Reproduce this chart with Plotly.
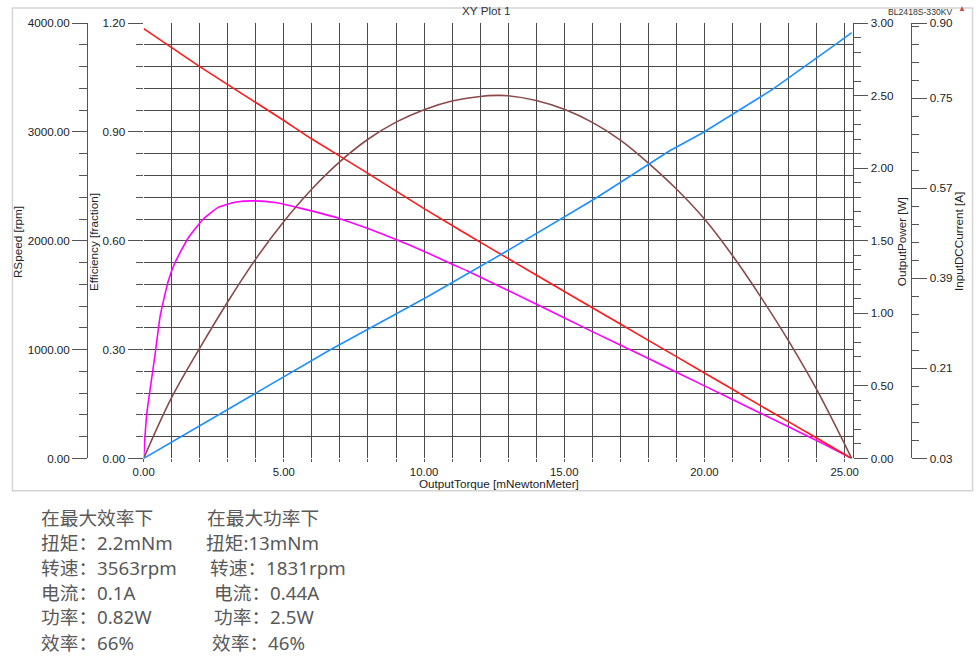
import plotly.graph_objects as go

# ---------------- data ----------------
torque_speed = [0, 1, 2, 3, 4, 5, 6, 8, 10, 12.5, 14, 16, 18, 20, 22, 24, 25.25]
speed_rpm = [3950, 3775, 3601, 3435, 3271, 3105, 2935, 2620, 2295, 1912, 1685, 1385, 1085, 785, 485, 188, 0]

torque_eff = [0, 0.03, 0.11, 0.41, 0.59, 0.88, 1.12, 1.60, 2.13, 2.66, 3.26, 3.91, 4.74, 5.58,
              7.0, 7.95, 9.02, 9.97, 11.04, 11.57, 14.01, 15.91, 18.04, 20.0, 21.96, 24.2, 25.25]
efficiency = [0, 0.04, 0.122, 0.288, 0.393, 0.490, 0.540, 0.609, 0.660, 0.692, 0.706, 0.710, 0.705,
              0.690, 0.661, 0.635, 0.603, 0.572, 0.534, 0.516, 0.425, 0.353, 0.274, 0.200, 0.126, 0.042, 0]

torque_power = [0, 1, 2, 3, 4, 5, 6, 7, 8, 9, 10, 11, 12, 12.6, 13, 14, 15, 16, 17, 18, 19, 20,
                21, 22, 23, 24, 25.25]
power_w = [0, 0.42, 0.76, 1.08, 1.375, 1.633, 1.857, 2.046, 2.200, 2.318, 2.404, 2.463, 2.495, 2.502,
           2.500, 2.467, 2.406, 2.316, 2.194, 2.036, 1.857, 1.650, 1.398, 1.115, 0.81, 0.475, 0]

torque_current = [0, 3.62, 6.64, 10.09, 12.97, 16.15, 18.76, 19.94, 22.44, 24.69, 25.25]
current_a = [0.03, 0.149, 0.2466, 0.352, 0.445, 0.551, 0.645, 0.681, 0.768, 0.858, 0.881]

current_ticks = [0.03, 0.21, 0.39, 0.57, 0.75, 0.90]

chart_title = "XY Plot 1"
model_name = "BL2418S-330KV"
x_title = "OutputTorque [mNewtonMeter]"
speed_title = "RSpeed [rpm]"
eff_title = "Efficiency [fraction]"
power_title = "OutputPower [W]"
current_title = "InputDCCurrent [A]"

left_notes = ["在最大效率下", "扭矩：2.2mNm", "转速：3563rpm", "电流：0.1A", "功率：0.82W", "效率：66%"]
right_notes = ["在最大功率下", "扭矩:13mNm", "转速：1831rpm", "电流：0.44A", "功率：2.5W", "效率：46%"]

# ---------------- geometry helpers (target screen pixels -> paper) ----------------
W, H = 979, 661
# measured mapping of figure pixels onto the captured picture
SX, OX = 0.9847, 10.7
SY, OY = 0.9807, 6.13
FS = 1 / 0.983


def px(x):
    return min(max(((x - OX) / SX) / W, 0.0015), 0.9985)


def py(y):
    return min(max(1 - ((y - OY) / SY) / H, 0.0015), 0.9985)


X_LEFT, X_RIGHT = 143.5, 854.0
Y_TOP, Y_BOT = 22.3, 457.7
T_PER_PX = 1 / 28.07
x_max = (X_RIGHT - X_LEFT) * T_PER_PX

FONT = "Liberation Sans, Arial, sans-serif"
GRID = "#4a4a4a"
AX = "#555555"
TXT = "#222222"

fig = go.Figure()
fig.add_trace(go.Scatter(x=torque_speed, y=speed_rpm, mode="lines", yaxis="y2",
                         line=dict(color="#ff1a1a", width=1.6, shape="spline", smoothing=0.5),
                         name="RSpeed"))
fig.add_trace(go.Scatter(x=torque_power, y=power_w, mode="lines", yaxis="y3",
                         line=dict(color="#8b4a4a", width=1.6, shape="spline", smoothing=1.0),
                         name="OutputPower"))
fig.add_trace(go.Scatter(x=torque_current, y=current_a, mode="lines", yaxis="y4",
                         line=dict(color="#1e8fff", width=1.6), name="InputDCCurrent"))
fig.add_trace(go.Scatter(x=torque_eff, y=efficiency, mode="lines", yaxis="y",
                         line=dict(color="#ff00ff", width=1.6, shape="spline", smoothing=0.5),
                         name="Efficiency"))

ydom = [py(Y_BOT), py(Y_TOP)]
tickfont = dict(family=FONT, size=11.5 * FS, color=TXT)

fig.update_layout(
    width=W, height=H, margin=dict(l=0, r=0, t=0, b=0, pad=0),
    paper_bgcolor="white", plot_bgcolor="white", showlegend=False, hovermode=False,
    xaxis=dict(domain=[px(X_LEFT), px(X_RIGHT)], range=[0, x_max], tickvals=[0, 5, 10, 15, 20, 25],
               tickformat=".2f", ticks="outside", ticklen=3, tickcolor=AX,
               tickfont=dict(family=FONT, size=11.2 * FS, color=TXT),
               showgrid=True, gridcolor=GRID, gridwidth=1, zeroline=False, showline=False,
               minor=dict(dtick=1, tick0=0, ticks="outside", ticklen=3, tickcolor=AX,
                          showgrid=True, gridcolor=GRID, gridwidth=1)),
    yaxis=dict(domain=ydom, range=[0, 1.2], dtick=0.3, tickformat=".2f", ticks="outside",
               ticklen=15, tickcolor=AX, tickfont=tickfont, showgrid=True, gridcolor=GRID,
               zeroline=False, showline=False,
               minor=dict(dtick=0.06, ticks="outside", ticklen=7, tickcolor=AX,
                          showgrid=True, gridcolor=GRID, gridwidth=1)),
    yaxis2=dict(domain=ydom, range=[0, 4000], dtick=1000, tickformat=".2f", overlaying="y",
                anchor="free", position=px(87), side="left", ticks="outside", ticklen=15,
                tickcolor=AX, tickfont=tickfont, showgrid=False, zeroline=False,
                showline=True, linecolor=AX, linewidth=1,
                minor=dict(dtick=200, ticks="outside", ticklen=8, tickcolor=AX, showgrid=False)),
    yaxis3=dict(domain=ydom, range=[0, 3], dtick=0.5, tickformat=".2f", overlaying="y",
                anchor="free", position=px(X_RIGHT), side="right", ticks="outside", ticklen=14,
                tickcolor=AX, tickfont=tickfont, showgrid=False, zeroline=False,
                showline=True, linecolor=GRID, linewidth=1,
                minor=dict(dtick=0.1, ticks="outside", ticklen=7, tickcolor=AX, showgrid=False)),
    yaxis4=dict(domain=ydom, range=[0.03, 0.90], tickmode="array", tickvals=current_ticks,
                tickformat=".2f", overlaying="y", anchor="free", position=px(912), side="right",
                ticks="outside", ticklen=15, tickcolor=AX, tickfont=tickfont, showgrid=False,
                zeroline=False, showline=True, linecolor=AX, linewidth=1,
                minor=dict(tickmode="linear", tick0=0.03, dtick=0.036, ticks="outside", ticklen=7,
                           tickcolor=AX, showgrid=False)),
)

# panel frame
fig.add_shape(type="rect", xref="paper", yref="paper", x0=px(1.5), x1=px(975.5), y0=py(490), y1=py(2),
              line=dict(color="#d4d4d4", width=1.5), layer="below")


def note(x, y, text, font, angle=0, xanchor="center"):
    fig.add_annotation(x=px(x), y=py(y), xref="paper", yref="paper", text=text, textangle=angle,
                       xanchor=xanchor, yanchor="middle", showarrow=False, font=font)


ann_font = dict(family=FONT, size=11.5 * FS, color=TXT)
note(963, 8, "▲", dict(family=FONT, size=8 * FS, color="#c0504d"))
note(487, 10, chart_title, dict(family=FONT, size=11.5 * FS, color="#333333"))
note(921, 11, model_name, dict(family=FONT, size=8.5 * FS, color="#333333"))
note(499, 482.5, x_title, ann_font)
for xx, t in [(17, speed_title), (94, eff_title), (902, power_title), (959, current_title)]:
    note(xx, 241, t, ann_font, angle=-90)

note_font = dict(family="Noto Sans, Noto Sans CJK SC", size=18.4 * FS, color="#595959")
line_y = [517, 542, 567, 592, 616, 642]
right_x = [205, 204, 208, 212, 212, 210]
for i, t in enumerate(left_notes):
    note(39, line_y[i], t, note_font, xanchor="left")
for i, t in enumerate(right_notes):
    note(right_x[i], line_y[i], t, note_font, xanchor="left")

post = (
    "document.documentElement.style.margin='0';"
    "document.body.style.margin='0';"
    "document.documentElement.style.overflow='hidden';"
    "document.body.style.overflow='hidden';"
)
fig.write_html("out.html", config={"displayModeBar": False}, post_script=post)
